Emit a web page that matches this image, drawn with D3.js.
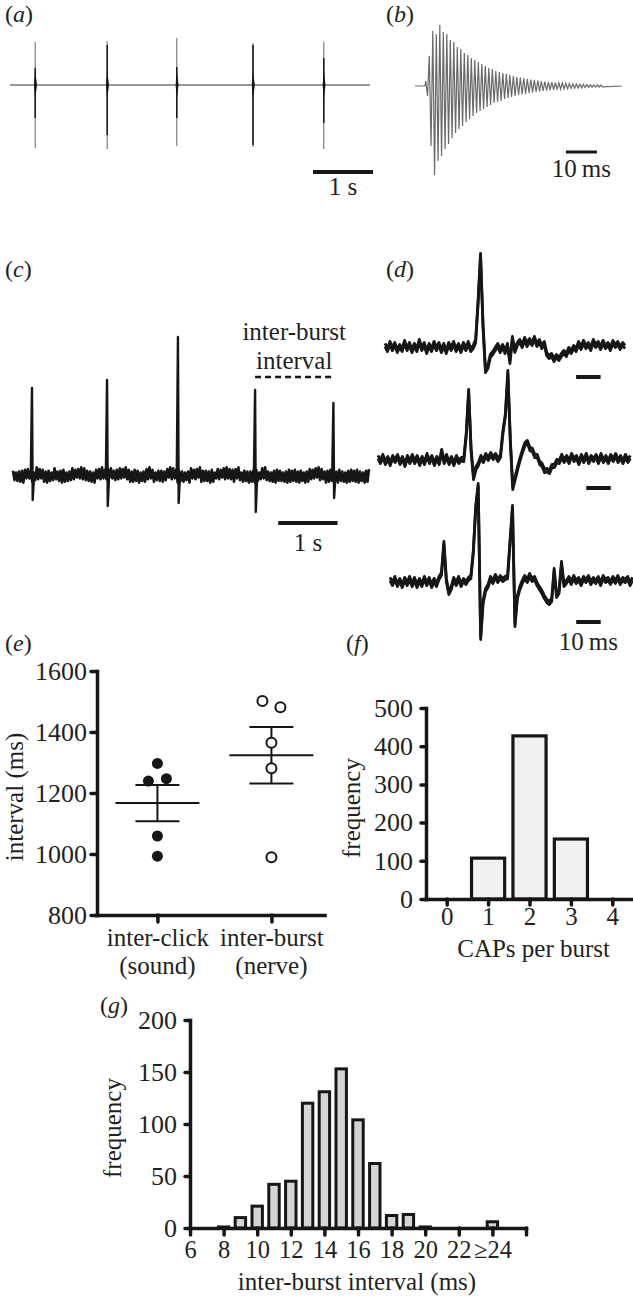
<!DOCTYPE html>
<html>
<head>
<meta charset="utf-8">
<script src="https://cdn.jsdelivr.net/npm/d3@7"></script>
<style>
body{margin:0;background:#fff;}
svg text{font-family:"Liberation Serif","Times New Roman",serif;fill:#231f20;}
</style>
</head>
<body>
<script>
// (a) sound clicks, times in s, heights in trace units
var aClickTimes = [0.42, 1.62, 2.78, 4.05, 5.23];
var aClickUp = [43, 44, 47, 42, 43];
var aClickDown = [63, 64, 61, 62, 64];
var aCoreUp = [17, 40, 18, 40, 27];
var aCoreDown = [33, 50, 33, 60, 38];

// (b) one click, peak size of each cycle (up / down)
var bOnset = 3.2, bPeriod = 1.13;
var bUp = [5,30,55,52,61,54,52,46,44,39,37,33,31,28,26,24,22,20,18,17,15,14,13,12,11,10,9,8.5,8,7,6.5,6,5.5,5,4.5,4,3.8,3.5,3.2,3,2.7,2.4,2.2,2,1.8,1.6,1.4,1.2,1.1,1,0.8];
var bDown = [10,60,89,75,70,63,58,52,47,43,40,36,33,30,27,25,23,21,19,17,16,15,13,12,11,10,9,8.5,8,7,6.5,6,5.5,5,4.5,4,3.8,3.5,3.2,3,2.7,2.4,2.2,2,1.8,1.6,1.4,1.2,1.1,1,0.8];

// (c) nerve recording, spikes (s) and background noise every 25 ms
var cSpikeTimes = [0.32, 1.585, 2.78, 4.08, 5.40];
var cSpikeUp = [87, 95, 138, 85, 72];
var cSpikeDown = [25, 31, 28, 37, 23];
var cNoise = "5637485964745836957468495736854759683746856374958657483964759465738456658473956848675937487594683657" +
             "5846739584695748364984657398575749683475638594756874963857494859673584964738596757384968576849573948" +
             "75648396754958673849674839586758694739587";

// (d) three bursts, one value per ms
var dTrace1 = [2,-3,4,-2,3,-4,1,-3,5,-2,3,-4,2,-3,6,-2,3,-5,2,-3,4,-2,3,-4,2,-5,3,-2,4,-3,2,-4,3,-2,4,-3,
  0,6,45,92,22,-24,-20,-9,-6,-2,
  2,-4,1,-5,2,
  -15,9,-4,3,
  6,1,8,2,7,3,9,2,6,0,4,
  -7,-10,-8,-13,-9,-12,-8,
  -5,-8,-2,-5,0,-3,
  4,-1,5,0,3,-2,6,1,4,-1,5,0,3,-2,5,1,4,-1,3,0];
var dTrace2 = [3,-2,4,-3,2,-4,3,-1,4,-3,2,-5,3,-2,4,-2,3,-4,2,-3,5,-2,3,-4,2,-3,9,-2,4,-3,2,-4,3,-2,1,
  0,25,69,10,-18,-8,-4,
  3,-1,5,1,6,2,5,0,4,
  28,45,88,20,-28,-18,-8,
  1,9,16,18,11,10,4,4,-3,-5,-11,-10,-12,-6,-6,-1,-2,
  4,-1,3,-2,5,0,3,-3,4,-1,5,-2,3,0,4,-2,5,-1,3,-2,4,0,5,-1,3,-2,4,-1,3];
var dTrace3 = [3,-2,4,-3,2,-4,3,-2,4,-3,3,-4,2,-3,4,-2,3,-4,2,-3,4,
  8,39,2,-11,-6,
  3,-2,4,-3,2,-1,3,
  5,30,75,97,-56,-20,-8,-4,
  4,0,6,1,5,2,4,
  5,40,75,-43,-15,-6,0,
  5,1,7,2,4,
  -2,-6,-10,-15,-19,-21,-18,12,-14,-10,19,-3,0,
  4,-1,5,0,3,-2,4,1,5,-1,3,0,4,-2,5,1,3,-1,4,0,5,-1,3,1,4,-2,3];
var dBarStart = [78, 85, 76];
var dBarLevel = [-30, -28, -40];

// (e) intervals (ms)
var eGroups = ["inter-click", "inter-burst"];
var eSub = ["(sound)", "(nerve)"];
var eClick = [1297, 1239, 1247, 1059, 993];
var eBurst = [1502, 1481, 1365, 1281, 989];
var eTicks = [800, 1000, 1200, 1400, 1600];

// (f) CAPs per burst
var fCaps = [0, 1, 2, 3, 4];
var fFreq = [0, 107, 427, 157, 0];
var fTicks = [0, 100, 200, 300, 400, 500];

// (g) inter-burst interval histogram
var gBins = [8, 9, 10, 11, 12, 13, 14, 15, 16, 17, 18, 19, 20, 21, 22, 23, 24];
var gFreq = [1, 10, 21, 42, 45, 120, 131, 153, 104, 62, 12, 13, 1, 0, 0, 0, 6];
var gTicks = [6, 8, 10, 12, 14, 16, 18, 20, 22, 24, 26];
var gTickLabels = ["6", "8", "10", "12", "14", "16", "18", "20", "22", "\u226524", ""];
var gYTicks = [0, 50, 100, 150, 200];

var W = 633, H = 1298;
var ink = "#161616";
var fontText = 25, fontTick = 26;

var svg = d3.select("body").append("svg")
    .attr("width", W)
    .attr("height", H);
svg.append("rect").attr("width", W).attr("height", H).attr("fill", "#fff");

var panelLabel = function(letter, x, y)
{
    var t = svg.append("text").attr("x", x).attr("y", y).attr("font-size", 24);
    t.append("tspan").text("(");
    t.append("tspan").attr("font-style", "italic").text(letter);
    t.append("tspan").text(")");
}

var label = function(txt, x, y, anchor)
{
    return svg.append("text").attr("x", x).attr("y", y)
        .attr("font-size", fontText)
        .attr("text-anchor", anchor || "middle")
        .text(txt);
}

var bar = function(x1, x2, y, w)
{
    svg.append("line").attr("x1", x1).attr("x2", x2).attr("y1", y).attr("y2", y)
        .attr("stroke", ink).attr("stroke-width", w);
}

var styleAxis = function(g, size)
{
    g.attr("font-size", size || fontTick).attr("font-family", "Liberation Serif, serif");
    g.select(".domain").attr("stroke", ink).attr("stroke-width", 3.5).attr("stroke-linecap", "square");
    g.selectAll(".tick line").attr("stroke", ink).attr("stroke-width", 3.5).attr("stroke-linecap", "round");
    g.selectAll(".tick text").attr("fill", "#231f20");
}

//----- (a)
var drawA = function()
{
    var x = d3.scaleLinear().domain([0, 6]).range([10, 370]);
    var y = d3.scaleLinear().domain([-100, 100]).range([185, -15]);
    svg.append("line").attr("x1", x(0)).attr("x2", x(6)).attr("y1", y(0)).attr("y2", y(0))
        .attr("stroke", "#333").attr("stroke-width", 1.1);
    aClickTimes.forEach(function(t, i) {
        svg.append("line").attr("x1", x(t)).attr("x2", x(t))
            .attr("y1", y(aClickUp[i])).attr("y2", y(-aClickDown[i]))
            .attr("stroke", "#666").attr("stroke-width", 1);
        svg.append("line").attr("x1", x(t)).attr("x2", x(t))
            .attr("y1", y(aCoreUp[i])).attr("y2", y(-aCoreDown[i]))
            .attr("stroke", ink).attr("stroke-width", 1.5);
        svg.append("path")
            .attr("d", "M" + x(t) + "," + y(14) + "L" + (x(t) + 1.8) + "," + y(0) + "L" + x(t) + "," + y(-14) +
                 "L" + (x(t) - 1.2) + "," + y(0) + "Z")
            .attr("fill", ink);
    });
    bar(x(5.05), x(6.05), y(-87), 4);
    label("1 s", x(5.55), 195);
    panelLabel("a", 5, 22);
}

//----- (b)
var drawB = function()
{
    var x = d3.scaleLinear().domain([0, 66.8]).range([415, 622]);
    var y = d3.scaleLinear().domain([-100, 100]).range([186, -14]);
    var pts = [[0, 0], [bOnset, 0]];
    bUp.forEach(function(u, k) {
        pts.push([bOnset + k * bPeriod + bPeriod / 4, u]);
        pts.push([bOnset + k * bPeriod + 3 * bPeriod / 4, -bDown[k]]);
    });
    pts.push([66.8, 0]);
    var line = d3.line()
        .x(function(d) { return x(d[0]); })
        .y(function(d) { return y(d[1]); });
    svg.append("path").datum(pts)
        .attr("d", line)
        .attr("fill", "none")
        .attr("stroke", "#6a6a6a")
        .attr("stroke-width", 1.2);
    bar(x(48.7), x(58.7), y(-66), 3);
    label("10\u2009ms", x(53.7), 177);
    panelLabel("b", 386, 22);
}

//----- (c)
var drawC = function()
{
    var x = d3.scaleLinear().domain([0, 6]).range([13, 369]);
    var y = d3.scaleLinear().domain([-50, 150]).range([525, 325]);
    var noise = cNoise.split("").map(function(c, i) {
        var v = +c * 0.85;
        return [i * 0.025, i % 2 ? -v : v];
    });
    var line = d3.line()
        .x(function(d) { return x(d[0]); })
        .y(function(d) { return y(d[1]); });
    svg.append("path").datum(noise)
        .attr("d", line).attr("fill", "none")
        .attr("stroke", ink).attr("stroke-width", 2.6)
        .attr("stroke-linejoin", "round");
    cSpikeTimes.forEach(function(t, i) {
        var s = [[t - 0.02, 0], [t, cSpikeUp[i]], [t + 0.012, -cSpikeDown[i]], [t + 0.035, 0]];
        svg.append("path").datum(s)
            .attr("d", line).attr("fill", "none")
            .attr("stroke", ink).attr("stroke-width", 2.4)
            .attr("stroke-linejoin", "round");
    });
    svg.append("line")
        .attr("x1", x(cSpikeTimes[3])).attr("x2", x(cSpikeTimes[4]))
        .attr("y1", y(98)).attr("y2", y(98))
        .attr("stroke", ink).attr("stroke-width", 2.5)
        .attr("stroke-dasharray", "6,4");
    var mid = (x(cSpikeTimes[3]) + x(cSpikeTimes[4])) / 2;
    label("inter-burst", mid, 340);
    label("interval", mid, 369);
    bar(x(4.47), x(5.47), y(-48), 4);
    label("1 s", x(4.97), 551);
    panelLabel("c", 5, 277);
}

//----- (d)
var drawD = function()
{
    var traces = [dTrace1, dTrace2, dTrace3];
    var origins = [[385, 347], [378, 460], [390, 582]];
    var x = d3.scaleLinear().domain([0, 100]).range([0, 245]);
    traces.forEach(function(tr, i) {
        var y = d3.scaleLinear().domain([0, 1]).range([origins[i][1], origins[i][1] - 1]);
        var line = d3.line()
            .x(function(d, k) { return origins[i][0] + x(k); })
            .y(function(d) { return y(d); });
        // recording band is thick, so the trace is drawn twice slightly apart
        [-1.6, 1.6].forEach(function(dy) {
            svg.append("path").datum(tr)
                .attr("d", line).attr("fill", "none")
                .attr("transform", "translate(0," + dy + ")")
                .attr("stroke", ink).attr("stroke-width", 2.8)
                .attr("stroke-linejoin", "round");
        });
        bar(origins[i][0] + x(dBarStart[i]), origins[i][0] + x(dBarStart[i] + 10), y(dBarLevel[i]), 4);
    });
    label("10\u2009ms", origins[2][0] + x(dBarStart[2] + 5), 650);
    panelLabel("d", 386, 277);
}

//----- (e)
var dodge = function(vals)
{
    // points closer than 30 ms are pushed apart sideways
    var off = vals.map(function() { return 0; });
    vals.forEach(function(v, i) {
        vals.forEach(function(w, j) {
            if (j > i && Math.abs(v - w) < 30) { off[i] = -9; off[j] = 9; }
        });
    });
    return off;
}

var drawE = function()
{
    var x = d3.scalePoint().domain(eGroups).range([97, 325]).padding(0.5).align(0.53);
    var y = d3.scaleLinear().domain([800, 1600]).range([915, 671]);

    var ay = svg.append("g").attr("transform", "translate(97,0)")
        .call(d3.axisLeft(y).tickValues(eTicks).tickFormat(d3.format("d"))
            .tickSize(6).tickSizeOuter(0).tickPadding(4));
    styleAxis(ay);
    var ax = svg.append("g").attr("transform", "translate(0,915)")
        .call(d3.axisBottom(x).tickSize(7).tickSizeOuter(0).tickPadding(6));
    styleAxis(ax, fontText);
    ax.select(".domain").attr("d", "M97,0.5H325");
    eGroups.forEach(function(g, i) {
        label(eSub[i], x(g), 974);
    });

    var sets = [eClick, eBurst];
    sets.forEach(function(vals, i) {
        var cx = x(eGroups[i]);
        var m = d3.mean(vals);
        var sem = d3.deviation(vals) / Math.sqrt(vals.length);
        svg.append("line").attr("x1", cx - 42).attr("x2", cx + 42)
            .attr("y1", y(m)).attr("y2", y(m)).attr("stroke", ink).attr("stroke-width", 2);
        svg.append("line").attr("x1", cx).attr("x2", cx)
            .attr("y1", y(m + sem)).attr("y2", y(m - sem)).attr("stroke", ink).attr("stroke-width", 2);
        [m + sem, m - sem].forEach(function(v) {
            svg.append("line").attr("x1", cx - 22).attr("x2", cx + 22)
                .attr("y1", y(v)).attr("y2", y(v)).attr("stroke", ink).attr("stroke-width", 2);
        });
        var off = dodge(vals);
        svg.selectAll(null).data(vals).enter().append("circle")
            .attr("cx", function(d, k) { return cx + off[k]; })
            .attr("cy", function(d) { return y(d); })
            .attr("r", i == 0 ? 5.5 : 5)
            .attr("fill", i == 0 ? ink : "#fff")
            .attr("stroke", ink)
            .attr("stroke-width", i == 0 ? 0 : 2);
    });

    label("interval (ms)", 0, 0).attr("transform", "translate(23,797) rotate(-90)");
    panelLabel("e", 5, 651);
}

//----- (f)
var drawF = function()
{
    var x = d3.scaleLinear().domain([-0.5, 4.5]).range([426, 633]);
    var y = d3.scaleLinear().domain([0, 500]).range([899, 708]);

    svg.selectAll(null).data(fCaps.filter(function(c, i) { return fFreq[i] > 0; }))
        .enter().append("rect")
        .attr("x", function(c) { return x(c - 0.4); })
        .attr("width", function(c) { return x(c + 0.4) - x(c - 0.4); })
        .attr("y", function(c) { return y(fFreq[fCaps.indexOf(c)]); })
        .attr("height", function(c) { return y(0) - y(fFreq[fCaps.indexOf(c)]); })
        .attr("fill", "#f1f1f1")
        .attr("stroke", ink)
        .attr("stroke-width", 3.2);

    var ay = svg.append("g").attr("transform", "translate(" + x(-0.5) + ",0)")
        .call(d3.axisLeft(y).tickValues(fTicks).tickSize(5).tickSizeOuter(0).tickPadding(8));
    styleAxis(ay);
    var ax = svg.append("g").attr("transform", "translate(0,899)")
        .call(d3.axisBottom(x).tickValues(fCaps).tickFormat(d3.format("d")).tickSize(6).tickSizeOuter(0).tickPadding(2));
    styleAxis(ax, fontText);

    label("frequency", 0, 0).attr("transform", "translate(360,808) rotate(-90)");
    label("CAPs per burst", x(2.1), 957);
    panelLabel("f", 346, 651);
}

//----- (g)
var drawG = function()
{
    var x = d3.scaleLinear().domain([6, 26]).range([190, 526]);
    var y = d3.scaleLinear().domain([0, 200]).range([1228, 1020]);

    var bins = gBins.filter(function(b, i) { return gFreq[i] > 0; });
    svg.selectAll(null).data(bins).enter().append("rect")
        .attr("x", function(b) { return x(b - 0.31); })
        .attr("width", function(b) { return x(b + 0.31) - x(b - 0.31); })
        .attr("y", function(b) { return y(gFreq[gBins.indexOf(b)]); })
        .attr("height", function(b) { return y(0) - y(gFreq[gBins.indexOf(b)]); })
        .attr("fill", "#d3d5d7")
        .attr("stroke", ink)
        .attr("stroke-width", 3);

    var ay = svg.append("g").attr("transform", "translate(" + x(6) + ",0)")
        .call(d3.axisLeft(y).tickValues(gYTicks).tickSize(5).tickSizeOuter(0).tickPadding(8));
    styleAxis(ay);
    var ax = svg.append("g").attr("transform", "translate(0,1228)")
        .call(d3.axisBottom(x).tickValues(gTicks)
            .tickFormat(function(d, i) { return gTickLabels[i]; })
            .tickSize(7).tickSizeOuter(0).tickPadding(6));
    styleAxis(ax, 24.5);

    label("frequency", 0, 0).attr("transform", "translate(121,1128) rotate(-90)");
    label("inter-burst interval (ms)", 357, 1290);
    panelLabel("g", 100, 1013);
}

drawA();
drawB();
drawC();
drawD();
drawE();
drawF();
drawG();
</script>
</body>
</html>
